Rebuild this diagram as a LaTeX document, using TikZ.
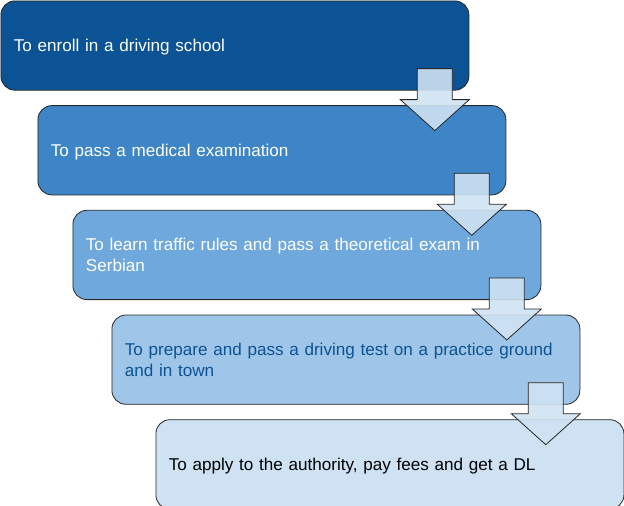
\documentclass[tikz,border=0pt]{standalone}
\usepackage{fontspec}
\setmainfont{Liberation Sans}
\usetikzlibrary{positioning, calc}
\definecolor{stepA}{HTML}{0B5394}
\definecolor{stepB}{HTML}{3D85C6}
\definecolor{stepC}{HTML}{6FA8DC}
\definecolor{stepD}{HTML}{9FC5E8}
\definecolor{stepE}{HTML}{CFE2F3}
\tikzset{
    stepbox/.style={rectangle, draw=black!85, line width=0.8pt, rounded corners=14pt, minimum height=89.3pt, text width=442pt, inner xsep=13pt, text depth=0pt, align=left, font=\fontsize{17.1}{20.5}\selectfont},
    twolines/.style={text depth=20.5pt},
    blockarrow/.style={draw=black!85, line width=0.8pt, fill=stepE, fill opacity=0.9, line join=miter}
}

\begin{document}
\begin{tikzpicture}
    \useasboundingbox (0,0) rectangle (624pt,-506pt);
    % Steps, each shifted right under the one before
    \node[stepbox, fill=stepA, text=white, anchor=north west] (s1) at (0.5pt,-0.5pt) {To enroll in a driving school};
    \node[stepbox, fill=stepB, text=white, below right=14.6pt and 37pt of s1.south west] (s2) {To pass a medical examination};
    \node[stepbox, twolines, fill=stepC, text=white, below right=14.6pt and 35pt of s2.south west] (s3) {To learn traffic rules and pass a theoretical exam in\\Serbian};
    \node[stepbox, twolines, fill=stepD, text=stepA, below right=14.6pt and 39pt of s3.south west] (s4) {To prepare and pass a driving test on a practice ground\\and in town};
    \node[stepbox, fill=stepE, text=black, below right=14.6pt and 44pt of s4.south west] (s5) {To apply to the authority, pay fees and get a DL};

    % Block arrows from each step down to the next
    \foreach \i in {1,...,4} {
        \draw[blockarrow] ($(s\i.south east)+(-52pt,22pt)$) -- ++(35pt,0) -- ++(0,-31pt) -- ++(17pt,0) -- ++(-34.5pt,-31pt) -- ++(-34.5pt,31pt) -- ++(17pt,0) -- cycle;
    }
\end{tikzpicture}
\end{document}
